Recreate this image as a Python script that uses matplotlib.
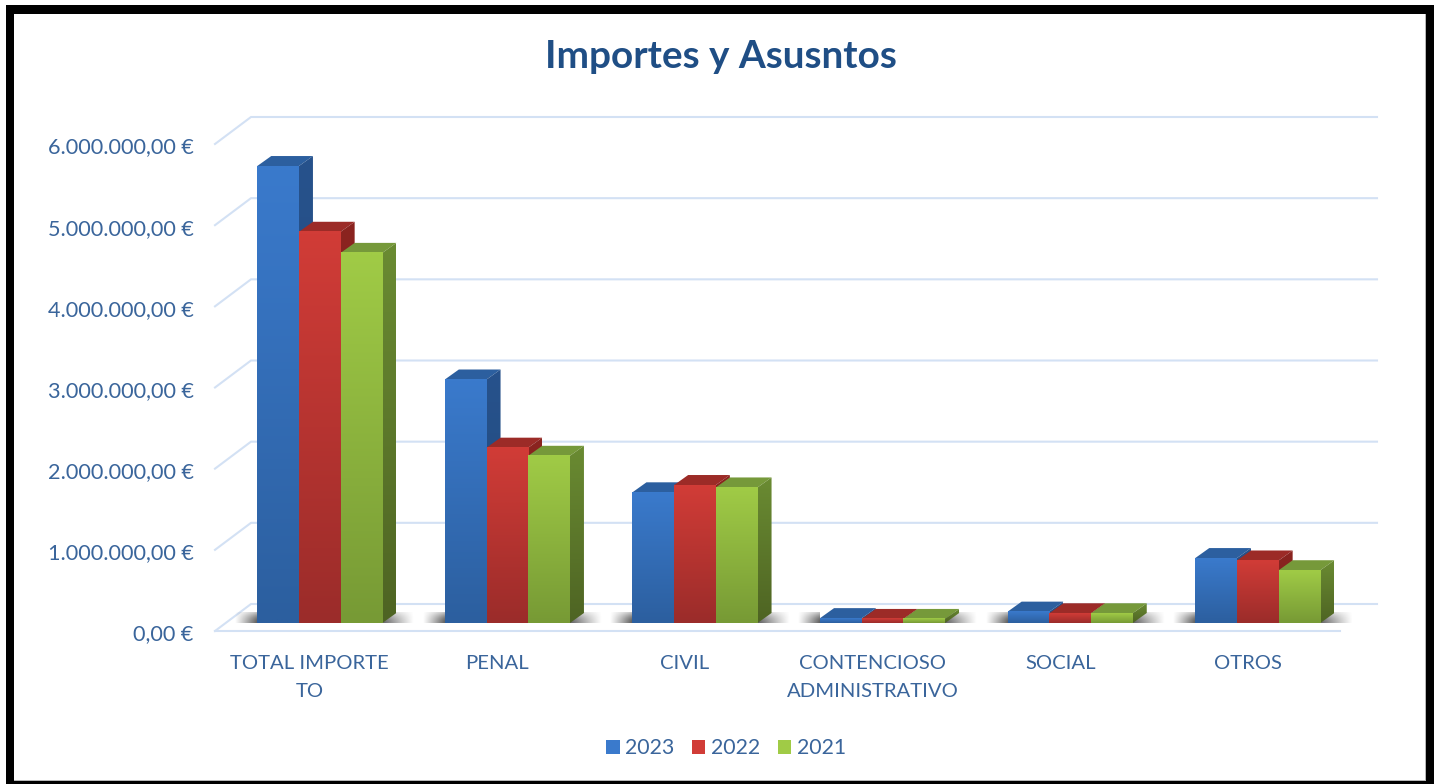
import numpy as np
import matplotlib
matplotlib.use("Agg")
import matplotlib.pyplot as plt
from matplotlib.patches import Polygon, Rectangle
from matplotlib.transforms import ScaledTranslation

categories = ["TOTAL IMPORTE\nTO", "PENAL", "CIVIL", "CONTENCIOSO\nADMINISTRATIVO", "SOCIAL", "OTROS"]
years = ["2023", "2022", "2021"]
v2023 = [5630000, 3000000, 1610000, 60000, 140000, 800000]
v2022 = [4820000, 2160000, 1700000, 50000, 120000, 770000]
v2021 = [4560000, 2060000, 1670000, 50000, 120000, 650000]
yticks = [0, 1000000, 2000000, 3000000, 4000000, 5000000, 6000000]
yticklabels = ["0,00 €", "1.000.000,00 €", "2.000.000,00 €", "3.000.000,00 €",
               "4.000.000,00 €", "5.000.000,00 €", "6.000.000,00 €"]
title = "Importes y Asusntos"

W, H = 1442, 784
plt.rcParams["font.family"] = ["Lato", "DejaVu Sans"]
TXT = "#3a659b"
fig = plt.figure(figsize=(W / 100, H / 100), dpi=100, facecolor="white")

# outer frame (pixel layout)
def fr(x0, y0, x1, y1, z, **kw):
    fig.add_artist(Rectangle((x0 / W, 1 - y1 / H), (x1 - x0) / W, (y1 - y0) / H,
                             transform=fig.transFigure, zorder=z, **kw))
fr(6, 5, 1434, 784, -3, fc="black", ec="none")
fr(14, 14, 1426, 781, -2, fc="#b8b8b8", ec="none")
fr(14, 14, 1425, 780, -1, fc="white", ec="none")

L, R, T, B = 226.0, 1351.6, 136.0, 623.0
ax = fig.add_axes([L / W, 1 - B / H, (R - L) / W, (B - T) / H])
ax.patch.set_visible(False)
for s in ax.spines.values():
    s.set_visible(False)
XMIN, XMAX, YMAX = -0.5, 5.5, 6000000
px = (XMAX - XMIN) / (R - L)      # category units per pixel
py = YMAX / (B - T)               # euros per pixel

# walls and floor
fx0, fx1, bx0, bx1 = XMIN - 11 * px, XMAX - 11.6 * px, XMIN + 25 * px, XMAX + 25.4 * px
fy, by = -8 * py, 19 * py
GRID = "#d3e1f4"
glw = 1.5
for t in yticks:
    ax.plot([fx0, bx0, bx1], [t + fy, t + by, t + by], color=GRID, lw=glw, clip_on=False, zorder=1,
            solid_joinstyle="round")
ax.plot([fx0, fx1], [fy, fy], color=GRID, lw=glw, clip_on=False, zorder=1)

# bars
bw = 41.7 * px
dx, dy = 14 * px, 10 * py
series = [v2023, v2022, v2021]
front = [("#3a7acc", "#2c5f9f"), ("#d13c37", "#9b2c2a"), ("#a0cb46", "#779a35")]
side = [("#27528c", "#214a7c"), ("#8b2420", "#7a201d"), ("#6a8b32", "#4e6423")]
topc = ["#2c5f9f", "#9c2b27", "#76993a"]

def hex2rgb(c):
    return np.array(matplotlib.colors.to_rgb(c))

def grad(x0, x1, y0, y1, cs, z, clip=None):
    t = np.linspace(0, 1, 64)[:, None, None]
    img = (1 - t) * hex2rgb(cs[0])[None, None, :] + t * hex2rgb(cs[1])[None, None, :]
    im = ax.imshow(img, extent=(x0, x1, y0, y1), origin="upper", aspect="auto", zorder=z,
                   interpolation="bilinear")
    if clip is not None:
        p = Polygon(clip, closed=True, transform=ax.transData)
        im.set_clip_path(p)
    return im

# soft floor shadows
def shadow(x0, x1, fade_right, z):
    h = np.linspace(1, 0, 64) if fade_right else np.linspace(0, 1, 64)
    v = np.sin(np.linspace(0.25, 1, 24) * np.pi / 2)
    a = np.outer(v, h) ** 1.1 * 0.8
    img = np.zeros(a.shape + (4,))
    img[..., :3] = 0.22
    img[..., 3] = a
    ax.imshow(img, extent=(x0, x1, 0, 10.5 * py), origin="upper", aspect="auto", zorder=z,
              interpolation="bilinear")

for i in range(len(categories)):
    g0 = i - 1.5 * bw
    shadow(g0 - 22 * px, g0, False, 2)
    shadow(g0 + 3 * bw, g0 + 3 * bw + 32 * px, True, 2)

z = 3
for i in range(len(categories)):
    g0 = i - 1.5 * bw
    for k, vals in enumerate(series):
        v = vals[i]
        x0, x1 = g0 + k * bw, g0 + (k + 1) * bw
        ax.add_patch(Polygon([(x0, v), (x1, v), (x1 + dx, v + dy), (x0 + dx, v + dy)],
                             closed=True, fc=topc[k], ec="none", zorder=z))
        grad(x1, x1 + dx, 0, v + dy, side[k], z,
             clip=[(x1, 0), (x1 + dx, dy), (x1 + dx, v + dy), (x1, v)])
        grad(x0, x1, 0, v, front[k], z + 0.5)
        z += 1

ax.set_xlim(XMIN, XMAX)
ax.set_ylim(0, YMAX)

# axis labels
FS = 14.6
ax.set_yticks(yticks)
ax.set_yticklabels(yticklabels, fontsize=15.6, color=TXT)
ax.tick_params(axis="y", length=0, pad=23.2)
off = ScaledTranslation(0, -9.5 / 100, fig.dpi_scale_trans)
for lab in ax.get_yticklabels():
    lab.set_transform(lab.get_transform() + off)

ax.set_xticks(range(len(categories)))
ax.set_xticklabels(categories, fontsize=FS, color=TXT, linespacing=1.8)
ax.tick_params(axis="x", length=0, pad=23)
offx = ScaledTranslation(-10 / 100, 0, fig.dpi_scale_trans)
for lab in ax.get_xticklabels():
    lab.set_transform(lab.get_transform() + offx)

fig.text(721 / W, 1 - 57 / H, title, ha="center", va="center", fontsize=27.9,
         fontweight="bold", color="#1f4e85")

handles = [Rectangle((0, 0), 1, 1, fc=front[k][0], ec="none", label=years[k]) for k in range(3)]
leg = ax.legend(handles=handles, ncols=3, loc="center", bbox_to_anchor=(726 / W, 1 - 748.5 / H),
                bbox_transform=fig.transFigure, frameon=False, fontsize=15.3,
                handlelength=0.62, handleheight=0.62, handletextpad=0.26, columnspacing=0.84)
for t in leg.get_texts():
    t.set_color(TXT)

fig.savefig("out.png", dpi=100, facecolor="white")
